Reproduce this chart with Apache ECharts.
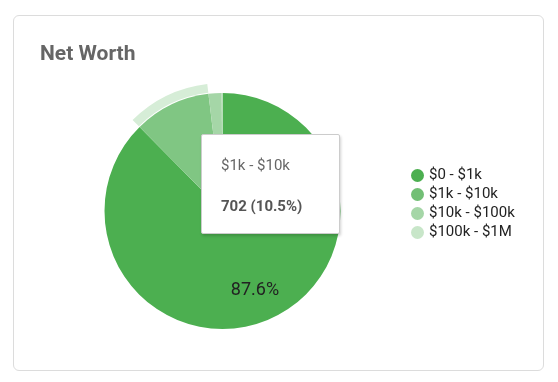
<!DOCTYPE html>
<html>
<head>
<meta charset="utf-8">
<script src="https://cdn.jsdelivr.net/npm/echarts@6/dist/echarts.min.js"></script>
<style>
  html, body { margin: 0; padding: 0; background: #fff; }
  #card { position: absolute; left: 13px; top: 15px; width: 531px; height: 356px;
          border: 1px solid #dcdcdc; border-radius: 6px; box-sizing: border-box; }
  #chart { position: absolute; left: 0; top: 0; width: 558px; height: 382px; }
</style>
</head>
<body>
<div id="card"></div>
<div id="chart"></div>
<script>
const categories = ['$0 - $1k', '$1k - $10k', '$10k - $100k', '$100k - $1M'];
const counts = [5857, 702, 120, 7];
const sliceColors = ['#4caf50', '#80c683', '#a5d6a7', '#c8e6c9'];
const legendColors = ['#4caf50', '#72bf75', '#a5d6a7', '#c8e6c9'];
const highlighted = 1;

const total = counts.reduce((a, b) => a + b, 0);
const pct = v => (v / total * 100).toFixed(1);

const chart = echarts.init(document.getElementById('chart'), null, { renderer: 'canvas' });
const center = [222.5, 211];
const R = 118;

chart.setOption({
  animation: false,
  textStyle: { fontFamily: 'Roboto' },
  title: {
    text: 'Net Worth', left: 40, top: 44, padding: 0,
    textStyle: { fontFamily: 'Roboto', fontSize: 21, fontWeight: 'bold', color: '#666666' }
  },
  legend: {
    orient: 'vertical', left: 411, top: 168, padding: 0,
    itemWidth: 13, itemHeight: 13, itemGap: 4, icon: 'circle',
    selectedMode: false,
    textStyle: { fontFamily: 'Roboto', fontSize: 15, color: '#222' },
    data: categories.map((c, i) => ({ name: c, itemStyle: { color: legendColors[i] } }))
  },
  tooltip: {
    trigger: 'item', triggerOn: 'none', alwaysShowContent: true,
    position: [201, 134],
    padding: 0, backgroundColor: '#fff', borderColor: '#cccccc', borderWidth: 1, borderRadius: 2,
    extraCssText: 'box-shadow: 1px 2px 3px rgba(0,0,0,0.18); width:139px; height:100px; box-sizing:border-box;',
    formatter: p => '<div style="font-family:Roboto;font-size:15px;padding-left:19px;">' +
      '<div style="margin-top:21px;height:18px;line-height:18px;color:#666;">' + p.name + '</div>' +
      '<div style="margin-top:23px;height:18px;line-height:18px;color:#555;font-weight:bold;">' +
      p.value + ' (' + pct(p.value) + '%)</div></div>'
  },
  series: [
    {
      type: 'pie', name: 'main', center: center, radius: [0, R],
      startAngle: 90, clockwise: true, avoidLabelOverlap: false,
      label: { show: false }, labelLine: { show: false },
      emphasis: { disabled: true },
      itemStyle: { borderWidth: 0 },
      data: categories.map((c, i) => ({ name: c, value: counts[i], itemStyle: { color: sliceColors[i] } }))
    },
    {
      type: 'pie', name: 'ring', center: center, radius: [R + 1, R + 10],
      startAngle: 90, clockwise: true, silent: true, tooltip: { show: false },
      label: { show: false }, labelLine: { show: false },
      emphasis: { disabled: true },
      itemStyle: { borderWidth: 0 },
      data: categories.map((c, i) => ({ name: c, value: counts[i],
        itemStyle: { color: i === highlighted ? '#d6edd7' : 'rgba(0,0,0,0)' } }))
    },
    {
      type: 'pie', name: 'labels', center: center, radius: [R * 0.4, R],
      startAngle: 90, clockwise: true, silent: true, tooltip: { show: false },
      labelLine: { show: false },
      emphasis: { disabled: true },
      itemStyle: { color: 'rgba(0,0,0,0)', borderWidth: 0 },
      label: {
        show: true, position: 'inside', fontFamily: 'Roboto', fontSize: 18, color: '#222',
        formatter: p => (p.value / total >= 0.15 ? pct(p.value) + '%' : '')
      },
      data: categories.map((c, i) => ({ name: c, value: counts[i] }))
    }
  ]
});
chart.dispatchAction({ type: 'showTip', seriesIndex: 0, dataIndex: highlighted });
</script>
</body>
</html>
